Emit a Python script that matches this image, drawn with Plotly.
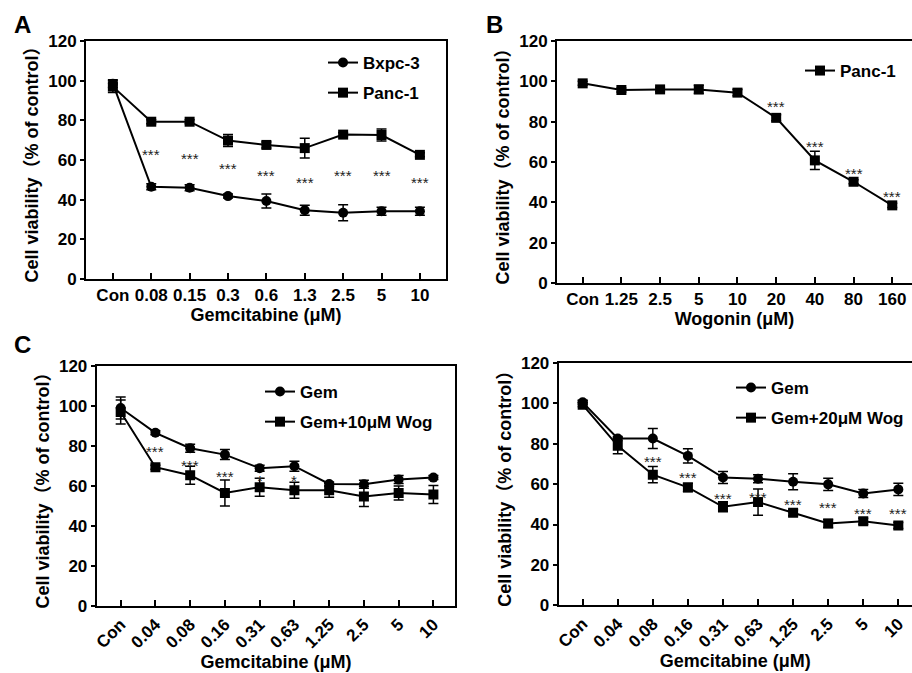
import plotly.graph_objects as go

# ---------------- data ----------------
a_cats = ["Con", "0.08", "0.15", "0.3", "0.6", "1.3", "2.5", "5", "10"]
a_bxpc = [98.5, 46.5, 46.0, 41.8, 39.3, 34.7, 33.4, 34.2, 34.2]
a_bxpc_err = [2.0, 1.5, 1.5, 1.0, 3.5, 2.5, 4.0, 2.0, 2.0]
a_panc = [97.0, 79.3, 79.3, 69.8, 67.6, 66.0, 72.8, 72.6, 62.6]
a_panc_err = [3.0, 1.0, 1.0, 3.0, 1.5, 5.0, 1.0, 3.0, 1.0]
a_sig = ["", "***", "***", "***", "***", "***", "***", "***", "***"]
a_sig_y = [0, 64.6, 62.9, 57.5, 54.3, 50.6, 54.3, 54.3, 50.6]

b_cats = ["Con", "1.25", "2.5", "5", "10", "20", "40", "80", "160"]
b_panc = [99.0, 95.7, 96.0, 96.0, 94.4, 81.9, 60.8, 50.2, 38.5]
b_panc_err = [1.0, 1.0, 1.0, 2.0, 1.5, 1.5, 4.5, 1.0, 1.0]
b_sig = ["", "", "", "", "", "***", "***", "***", "***"]
b_sig_y = [0, 0, 0, 0, 0, 89.4, 69.8, 56.1, 44.9]

c_cats = ["Con", "0.04", "0.08", "0.16", "0.31", "0.63", "1.25", "2.5", "5", "10"]
c_gem = [99.0, 86.6, 78.9, 75.7, 68.9, 69.9, 61.0, 60.9, 63.2, 64.2]
c_gem_err = [5.5, 1.0, 2.0, 2.5, 1.5, 2.5, 1.0, 2.0, 2.0, 1.0]
c_wog = [97.0, 69.4, 65.4, 56.5, 59.4, 57.9, 57.9, 54.8, 56.5, 55.7]
c_wog_err = [6.0, 1.0, 4.5, 6.5, 4.5, 4.0, 3.5, 5.0, 3.5, 4.5]
c_sig = ["", "***", "***", "***", "*", "*", "", "", "", ""]
c_sig_y = [0, 79.0, 72.4, 66.9, 64.9, 64.9, 0, 0, 0, 0]

d_cats = ["Con", "0.04", "0.08", "0.16", "0.31", "0.63", "1.25", "2.5", "5", "10"]
d_gem = [100.5, 82.6, 82.6, 74.0, 63.3, 62.7, 61.2, 59.9, 55.4, 57.4]
d_gem_err = [1.0, 1.0, 5.0, 3.5, 3.0, 2.0, 4.0, 3.0, 2.0, 3.0]
d_wog = [99.3, 79.0, 64.7, 58.4, 48.8, 51.1, 45.8, 40.5, 41.6, 39.5]
d_wog_err = [1.0, 4.0, 4.0, 2.0, 2.5, 6.5, 1.5, 2.0, 1.5, 1.5]
d_sig = ["", "", "***", "***", "***", "***", "***", "***", "***", "***"]
d_sig_y = [0, 0, 73.1, 65.3, 54.9, 55.4, 52.1, 50.4, 47.4, 47.4]

y_ticks = [0, 20, 40, 60, 80, 100, 120]

# ---------------- style ----------------
W, H = 912, 673
FONT = "Liberation Sans, Arial, Noto Sans CJK SC, sans-serif"
BOLD = dict(family=FONT, weight="bold", color="black")


def px_x(p):
    return p / W


def px_y(p):
    return 1 - p / H


fig = go.Figure()


def add_series(x, y, err, name, symbol, xa, ya, legend, group):
    fig.add_trace(go.Scatter(
        x=x, y=y, name=name, mode="lines+markers",
        xaxis=xa, yaxis=ya, legend=legend, legendgroup=group,
        line=dict(color="black", width=2),
        marker=dict(symbol=symbol, size=10, color="black"),
        error_y=dict(type="data", array=err, visible=True, color="black",
                     thickness=1.5, width=5),
    ))


add_series(a_cats, a_bxpc, a_bxpc_err, "Bxpc-3", "circle", "x", "y", "legend", "a1")
add_series(a_cats, a_panc, a_panc_err, "Panc-1", "square", "x", "y", "legend", "a2")
add_series(b_cats, b_panc, b_panc_err, "Panc-1", "square", "x2", "y2", "legend2", "b1")
add_series(c_cats, c_gem, c_gem_err, "Gem", "circle", "x3", "y3", "legend3", "c1")
add_series(c_cats, c_wog, c_wog_err, "Gem+10μM Wog", "square", "x3", "y3", "legend3", "c2")
add_series(d_cats, d_gem, d_gem_err, "Gem", "circle", "x4", "y4", "legend4", "d1")
add_series(d_cats, d_wog, d_wog_err, "Gem+20μM Wog", "square", "x4", "y4", "legend4", "d2")

# significance stars (x given as category index)
for cats, sig, sy, xr, yr in [(a_cats, a_sig, a_sig_y, "x", "y"),
                               (b_cats, b_sig, b_sig_y, "x2", "y2"),
                               (c_cats, c_sig, c_sig_y, "x3", "y3"),
                               (d_cats, d_sig, d_sig_y, "x4", "y4")]:
    for i, (s, yv) in enumerate(zip(sig, sy)):
        if s:
            fig.add_annotation(x=i, y=yv, xref=xr, yref=yr, text=s, showarrow=False,
                               font=dict(family=FONT, size=15, color="#222"),
                               yanchor="middle", yshift=-4)


def xaxis(domain, rng, title, angle, mirror=True):
    return dict(type="category", domain=domain, range=rng, showline=True, linewidth=2,
                linecolor="black", mirror=mirror, ticks="inside", ticklen=6, tickwidth=2,
                tickcolor="black", showgrid=False, zeroline=False, tickangle=angle,
                tickfont=dict(BOLD, size=17),
                title=dict(text=title, font=dict(BOLD, size=18), standoff=3))


def yaxis(domain, anchor, mirror=True):
    return dict(domain=domain, range=[0, 120], tickvals=y_ticks, showline=True, linewidth=2,
                linecolor="black", mirror=mirror, ticks="outside", ticklen=4, tickwidth=2,
                tickcolor="black", showgrid=False, zeroline=False, anchor=anchor,
                tickfont=dict(BOLD, size=17),
                title=dict(text="Cell viability（% of control）", font=dict(BOLD, size=18),
                           standoff=5))


fig.update_layout(
    width=W, height=H, margin=dict(l=0, r=0, t=0, b=0, autoexpand=False),
    paper_bgcolor="white", plot_bgcolor="white",
    xaxis=xaxis([px_x(86), px_x(446)], [-0.70, 8.68], "Gemcitabine (μM)", 0),
    yaxis=yaxis([px_y(279), px_y(41)], "x"),
    xaxis2=dict(xaxis([px_x(557), 1.0], [-0.664, 8.51], "Wogonin (μM)", 0), anchor="y2"),
    yaxis2=yaxis([px_y(283), px_y(41)], "x2", mirror=False),
    xaxis3=dict(xaxis([px_x(96.7), px_x(455.3)], [-0.69, 9.63], "Gemcitabine (μM)", -45), anchor="y3"),
    yaxis3=yaxis([px_y(606), px_y(366)], "x3"),
    xaxis4=dict(xaxis([px_x(558.7), 1.0], [-0.684, 9.39], "Gemcitabine (μM)", -45), anchor="y4"),
    yaxis4=yaxis([px_y(605.3), px_y(363)], "x4", mirror=False),
    showlegend=True,
)

leg_common = dict(bgcolor="rgba(0,0,0,0)", borderwidth=0, font=dict(BOLD, size=17),
                  traceorder="grouped", tracegroupgap=5, xanchor="left", yanchor="top",
                  itemclick=False)
fig.update_layout(
    legend=dict(leg_common, x=px_x(323), y=px_y(45)),
    legend2=dict(leg_common, x=px_x(800), y=px_y(53)),
    legend3=dict(leg_common, x=px_x(260), y=px_y(374)),
    legend4=dict(leg_common, x=px_x(731), y=px_y(370)),
)

# panel letters
for letter, x, y in [("A", 12, 25), ("B", 484, 25), ("C", 12, 345)]:
    fig.add_annotation(text=letter, x=px_x(x), y=px_y(y), xref="paper", yref="paper",
                       xanchor="left", yanchor="middle", showarrow=False,
                       font=dict(BOLD, size=24))

fig.write_html("out.html", config={"displayModeBar": False},
               post_script="document.body.style.margin='0';")
